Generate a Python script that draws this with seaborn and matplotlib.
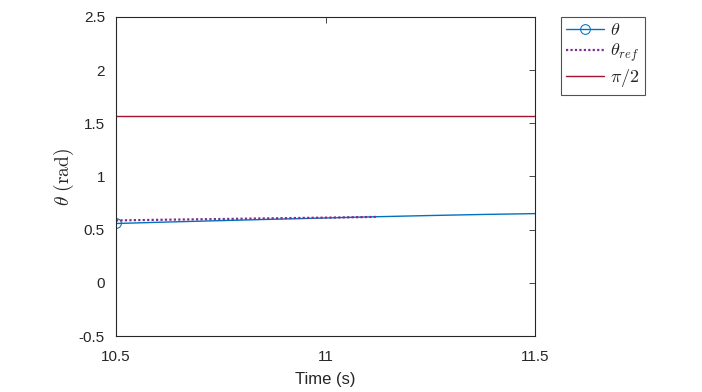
import numpy as np
import pandas as pd
import matplotlib
matplotlib.use("Agg")
import matplotlib.pyplot as plt
import seaborn as sns

# values
time_theta = [10.5, 10.625, 10.75, 10.875, 11.0, 11.125, 11.25, 11.375, 11.5]
theta = [0.558, 0.572, 0.585, 0.598, 0.610, 0.622, 0.633, 0.643, 0.651]

time_ref = [10.5, 10.625, 10.75, 10.875, 11.0, 11.12]
theta_ref = [0.587, 0.594, 0.600, 0.607, 0.613, 0.620]

time_half_pi = [10.5, 11.5]
half_pi = [np.pi / 2, np.pi / 2]

x_ticks = [10.5, 11, 11.5]
x_tick_labels = ["10.5", "11", "11.5"]
y_ticks = [-0.5, 0, 0.5, 1, 1.5, 2, 2.5]
y_tick_labels = ["-0.5", "0", "0.5", "1", "1.5", "2", "2.5"]

sns.set_style("white")
plt.rcParams["font.family"] = ["Liberation Sans", "DejaVu Sans"]
plt.rcParams["mathtext.fontset"] = "cm"

fig = plt.figure(figsize=(7.02, 3.92), dpi=100)
ax = fig.add_axes([116 / 702, 56 / 392, (535 - 116) / 702, (336 - 17) / 392])

df_theta = pd.DataFrame({"t": time_theta, "v": theta})
df_ref = pd.DataFrame({"t": time_ref, "v": theta_ref})
df_pi = pd.DataFrame({"t": time_half_pi, "v": half_pi})

sns.lineplot(data=df_theta, x="t", y="v", ax=ax, color="#0072BD", lw=1.0,
             marker="o", markevery=[0], markersize=7, markerfacecolor="none",
             markeredgecolor="#0072BD", label=r"$\theta$")
sns.lineplot(data=df_ref, x="t", y="v", ax=ax, color="#7E2F8E", lw=1.6,
             linestyle=(0, (1, 1)), label=r"$\theta_{ref}$")
sns.lineplot(data=df_pi, x="t", y="v", ax=ax, color="#A2142F", lw=1.0,
             label=r"$\pi/2$")

ax.set_xlim(10.5, 11.5)
ax.set_ylim(-0.5, 2.5)
ax.set_xticks(x_ticks)
ax.set_xticklabels(x_tick_labels)
ax.set_yticks(y_ticks)
ax.set_yticklabels(y_tick_labels)
ax.tick_params(direction="in", length=4, width=0.6, top=True, right=True,
               labelsize=11, colors="#262626")
ax.tick_params(axis="x", pad=10)
ax.tick_params(axis="y", pad=8)
for s in ax.spines.values():
    s.set_color("#262626")
    s.set_linewidth(0.8)

ax.set_xlabel("Time (s)", fontsize=12, color="#262626", labelpad=6)
ax.set_ylabel(r"$\theta\ \mathrm{(rad)}$", fontsize=14, color="#262626", labelpad=2)

leg = ax.legend(loc="upper left", bbox_to_anchor=(561 / 702, 1 - 17 / 392),
                bbox_transform=fig.transFigure, fontsize=13, frameon=True,
                fancybox=False, handlelength=2.1, handletextpad=0.3,
                borderpad=0.3, labelspacing=0.15, borderaxespad=0)
leg.get_frame().set_edgecolor("#262626")
leg.get_frame().set_linewidth(0.8)

fig.savefig("out.png", dpi=100)
